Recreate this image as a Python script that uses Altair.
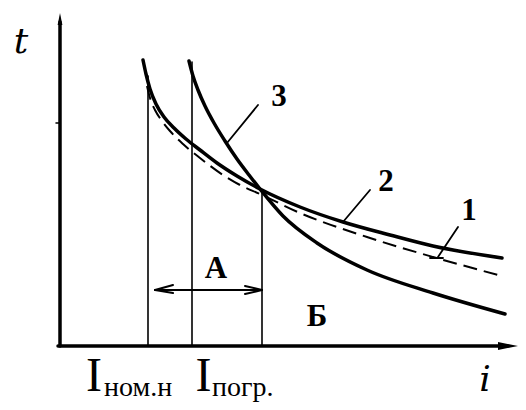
import altair as alt
import pandas as pd

# ---- curve data (schematic units: i = current, t = time) ----
curve2_i = [8.1, 8.4, 8.8, 9.4, 10.2, 11.2, 12.4, 13.8, 15.5, 17.5, 19.8, 23.8, 28.1, 32.8, 37.1, 44.0]
curve2_t = [28.6, 27.2, 25.7, 24.2, 22.9, 21.8, 20.7, 19.6, 18.3, 17.0, 15.7, 13.9, 12.4, 11.1, 10.0, 8.8]
curve3_i = [12.7, 13.1, 13.6, 14.3, 15.2, 16.3, 17.5, 18.7, 19.8, 22.1, 25.5, 30.5, 37.1, 44.3]
curve3_t = [28.5, 27.0, 25.6, 24.0, 22.3, 20.5, 18.7, 17.1, 15.7, 13.0, 10.3, 7.6, 5.3, 3.2]
curve1_i = [8.5, 8.8, 9.3, 10.0, 10.8, 12.1, 13.8, 16.1, 17.8, 19.8, 23.8, 30.5, 37.1, 44.0]
curve1_t = [26.0, 24.8, 23.6, 22.5, 21.5, 20.2, 18.8, 17.1, 16.1, 15.2, 13.3, 10.9, 8.9, 7.0]

# vertical marker lines: I_nom.n, I_pogr, intersection
vert_i = [8.6, 13.0, 20.0]
vert_top = [27.0, 28.4, 15.6]

# range arrow A
arrow_t = 5.6
arrow_i = [9.3, 20.0]

# leader lines for curve numbers
leader_i = [19.6, 30.8, 39.6, 36.8]
leader_t = [24.1, 15.6, 11.9, 8.8]
leader_i2 = [16.5, 28.1, 37.6, 38.1]
leader_t2 = [20.3, 12.4, 8.9, 8.8]

# labels
num_labels = ["3", "2", "1", "A", "Б"]
num_i = [21.7, 32.4, 40.7, 15.4, 25.5]
num_t = [24.9, 16.4, 13.5, 7.7, 2.9]

XD = [-5.4, 45.6]
YD = [-5.6, 33.8]
xs = alt.Scale(domain=XD, nice=False, zero=False)
ys = alt.Scale(domain=YD, nice=False, zero=False)
X = lambda f: alt.X(f, type="quantitative", scale=xs, axis=None)
Y = lambda f: alt.Y(f, type="quantitative", scale=ys, axis=None)

def line(i, t, width, dash=None):
    df = pd.DataFrame({"i": i, "t": t})
    kw = dict(color="black", strokeWidth=width, interpolate="monotone",
              strokeCap="round", clip=False)
    if dash:
        kw["strokeDash"] = dash
        kw["strokeCap"] = "butt"
    return alt.Chart(df).mark_line(**kw).encode(x=X("i"), y=Y("t"), order="i:Q")

def segs(rows, width):
    df = pd.DataFrame(rows, columns=["i", "t", "i2", "t2"])
    return alt.Chart(df).mark_rule(color="black", strokeWidth=width, strokeCap="round",
                                   clip=False).encode(
        x=X("i"), y=Y("t"), x2="i2:Q", y2="t2:Q")

layers = []
# axes
layers.append(segs([[-0.2, 0, -0.2, 32.4], [-0.4, 0, 44.6, 0]], 3.5))
layers.append(segs([[-0.6, 22.3, -0.2, 22.3]], 1.5))
arrows = pd.DataFrame({"i": [44.6, -0.2], "t": [0, 32.7],
                       "s": ["M -1 -0.4 L 1 0 L -1 0.4 Z", "M -0.4 1 L 0 -1 L 0.4 1 Z"],
                       "z": [400, 144]})
layers.append(alt.Chart(arrows).mark_point(filled=True, color="black", opacity=1,
                                           clip=False).encode(
    x=X("i"), y=Y("t"), shape=alt.Shape("s:N", scale=None),
    size=alt.Size("z:Q", scale=None)))
# verticals
layers.append(segs([[vi, 0, vi, vt] for vi, vt in zip(vert_i, vert_top)], 1.6))
# arrow A
a0, a1 = arrow_i
layers.append(segs([[a0, arrow_t, a1, arrow_t],
                    [a0, arrow_t, a0 + 1.8, arrow_t + 0.5],
                    [a0, arrow_t, a0 + 1.8, arrow_t - 0.3],
                    [a1, arrow_t, a1 - 1.7, arrow_t + 0.4],
                    [a1, arrow_t, a1 - 1.7, arrow_t - 0.4]], 2))
# leaders
layers.append(segs([list(r) for r in zip(leader_i, leader_t, leader_i2, leader_t2)], 1.8))
# curves
layers.append(line(curve1_i, curve1_t, 2, dash=[14, 7]))
layers.append(line(curve2_i, curve2_t, 3.5))
layers.append(line(curve3_i, curve3_t, 3.5))

# number labels
nl = pd.DataFrame({"lab": num_labels, "i": num_i, "t": num_t})
layers.append(alt.Chart(nl).mark_text(font="Liberation Sans Narrow", fontSize=31,
                                      fontWeight="bold",
                                      align="center", baseline="middle", color="black",
                                      clip=False).encode(x=X("i"), y=Y("t"), text="lab:N"))
# axis letters
ax = pd.DataFrame({"lab": ["t", "i"], "i": [-4.1, 42.3], "t": [30.4, -3.4]})
layers.append(alt.Chart(ax).mark_text(font="DejaVu Serif", fontStyle="italic", fontSize=36,
                                      align="center", baseline="middle", color="black",
                                      clip=False).encode(x=X("i"), y=Y("t"), text="lab:N"))
# I labels
il = pd.DataFrame({"lab": ["I", "I"], "i": [3.2, 14.15], "t": [-4.5, -4.5]})
layers.append(alt.Chart(il).mark_text(font="Liberation Serif", fontSize=48,
                                      align="center", baseline="alphabetic", color="black",
                                      clip=False).encode(x=X("i"), y=Y("t"), text="lab:N"))
sl = pd.DataFrame({"lab": ["ном.н", "погр."], "i": [4.2, 15.0], "t": [-5.0, -5.0]})
layers.append(alt.Chart(sl).mark_text(font="Liberation Sans Narrow", fontSize=28,
                                      align="left", baseline="alphabetic", color="black",
                                      clip=False).encode(x=X("i"), y=Y("t"), text="lab:N"))

chart = alt.layer(*layers).properties(
    width=510, height=394,
    autosize=alt.AutoSizeParams(type="none"),
    padding=0,
    background="white",
).configure_view(stroke=None)

chart.save("out.html", embed_options={"renderer": "svg", "actions": False})
